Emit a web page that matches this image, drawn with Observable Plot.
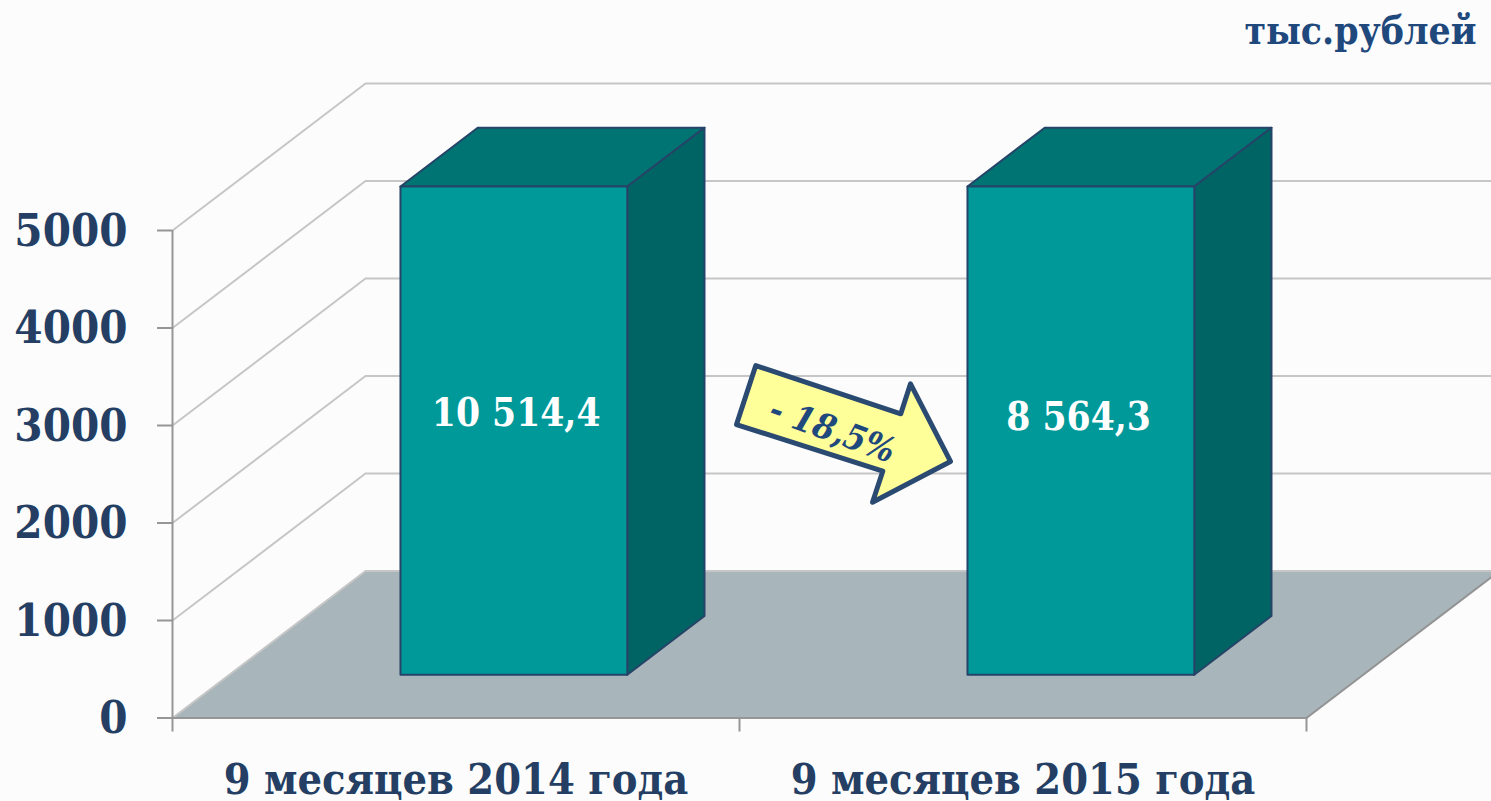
<!DOCTYPE html>
<html><head><meta charset="utf-8">
<style>html,body{margin:0;padding:0;background:#fcfcfc;overflow:hidden}svg{display:block}</style>
<script src="https://cdn.jsdelivr.net/npm/d3@7"></script>
<script src="https://cdn.jsdelivr.net/npm/@observablehq/plot@0.6"></script>
</head><body><div id="chart"></div>
<script>
const categories = ["9 месяцев 2014 года", "9 месяцев 2015 года"];
const seriesValues = [10514.4, 8564.3];
const valueLabels = ["10 514,4", "8 564,3"];
const labelHeights = [3120, 3079];
const yTicks = [0, 1000, 2000, 3000, 4000, 5000];
const xTicks = [0, 1, 2];
const unitLabel = "тыс.рублей";
const changeLabel = "- 18,5%";
const arrowX = [1.0287, 1.2845, 1.3016, 1.3721, 1.2346, 1.2527, 0.9947, 1.0287];
const arrowY = [3615, 3120, 3428, 2631, 2213, 2531, 3010, 3615];

const yMax = 5000;
const depthX = 0.3404, depthY = 1507.6;   // full chart depth in data units
const barFront = 0.294, barDepth = 0.4, barGap = 0.302, barWidth = 0.4;
const project = (x, y, t) => ({x: x + t * depthX, y: y + t * depthY});
const poly = (pts, fill, stroke, strokeWidth) =>
  Plot.line([...pts, pts[0]], {x: "x", y: "y", fill, stroke, strokeWidth, strokeLinejoin: "round"});

const font = "'DejaVu Serif Condensed', 'DejaVu Serif', serif";
const ink = "#243f63", edge = "#254468";

const bars = categories.flatMap((c, i) => {
  const top = Math.min(seriesValues[i], yMax) + 8;
  const l = i + barGap, r = l + barWidth, t0 = barFront, t1 = barFront + barDepth;
  return [
    poly([project(l, top, t0), project(r, top, t0), project(r, top, t1), project(l, top, t1)], "#007373", edge, 2),
    poly([project(r, 0, t0), project(r, 0, t1), project(r, top, t1), project(r, top, t0)], "#006464", edge, 2),
    poly([project(l, 0, t0), project(r, 0, t0), project(r, top, t0), project(l, top, t0)], "#009999", edge, 2)
  ];
});
const labelRows = categories.map((c, i) => ({
  text: valueLabels[i],
  x: project(i + barGap + barWidth / 2, 0, barFront).x + 0.004 - i * 0.008,
  y: labelHeights[i]
}));

const chart = Plot.plot({
  width: 1491, height: 801,
  marginLeft: 172, marginRight: 185, marginTop: 230, marginBottom: 83.5,
  style: {background: "#fcfcfc", overflow: "hidden", fontStretch: "condensed"},
  x: {domain: [0, 2], label: null},
  y: {domain: [0, yMax], label: null},
  marks: [
    poly([project(0, 0, 0), project(2, 0, 0), project(2, 0, 1), project(0, 0, 1)], "#a8b5ba", "none", 0),
    ...yTicks.map(v => Plot.line([project(0, v, 0), project(0, v, 1), project(2.1, v, 1)],
      {x: "x", y: "y", stroke: "#c6c6c6", strokeWidth: 2, strokeLinejoin: "miter"})),
    Plot.line([project(2, 0, 0), project(2, 0, 1)], {x: "x", y: "y", stroke: "#939393", strokeWidth: 2}),
    Plot.ruleX([0], {y1: 0, y2: yMax, stroke: "#969696", strokeWidth: 2}),
    Plot.ruleY([0], {x1: 0, x2: 2, stroke: "#969696", strokeWidth: 2}),
    Plot.axisY({ticks: yTicks, tickSize: 15, stroke: "#969696", strokeWidth: 2, tickFormat: () => "", label: null}),
    Plot.axisY({ticks: yTicks, tickSize: 0, tickPadding: 45, dy: 1,
      fontFamily: font, fontWeight: 700, fontSize: 45.2, fill: ink, tickFormat: d => String(d), label: null}),
    Plot.axisX({ticks: xTicks, tickSize: 14, stroke: "#969696", strokeWidth: 2, tickFormat: () => "", label: null}),
    Plot.text(categories, {x: (d, i) => i + 0.5, y: 0, text: d => d, dy: 62, fontFamily: font, fontWeight: 700,
      fontSize: 42.9, fill: ink, textAnchor: "middle"}),
    ...bars,
    Plot.text(labelRows, {x: "x", y: "y", text: "text", fontFamily: font, fontWeight: 700, fontSize: 38.5, fill: "#ffffff", textAnchor: "middle"}),
    poly(arrowX.map((x, i) => ({x, y: arrowY[i]})).slice(0, -1), "#ffff99", "#2a4a72", 5),
    Plot.text([changeLabel], {x: [1.1635], y: [2949], text: d => d, rotate: 20, fontFamily: font, fontWeight: 700,
      fontStyle: "italic", fontSize: 35, fill: "#1f497d", textAnchor: "middle"}),
    Plot.text([unitLabel], {x: [2.2998], y: [7040], text: d => d, fontFamily: font, fontWeight: 700, fontSize: 38.7,
      fill: "#1f497d", textAnchor: "end"})
  ]
});
document.getElementById("chart").appendChild(chart);
</script></body></html>
